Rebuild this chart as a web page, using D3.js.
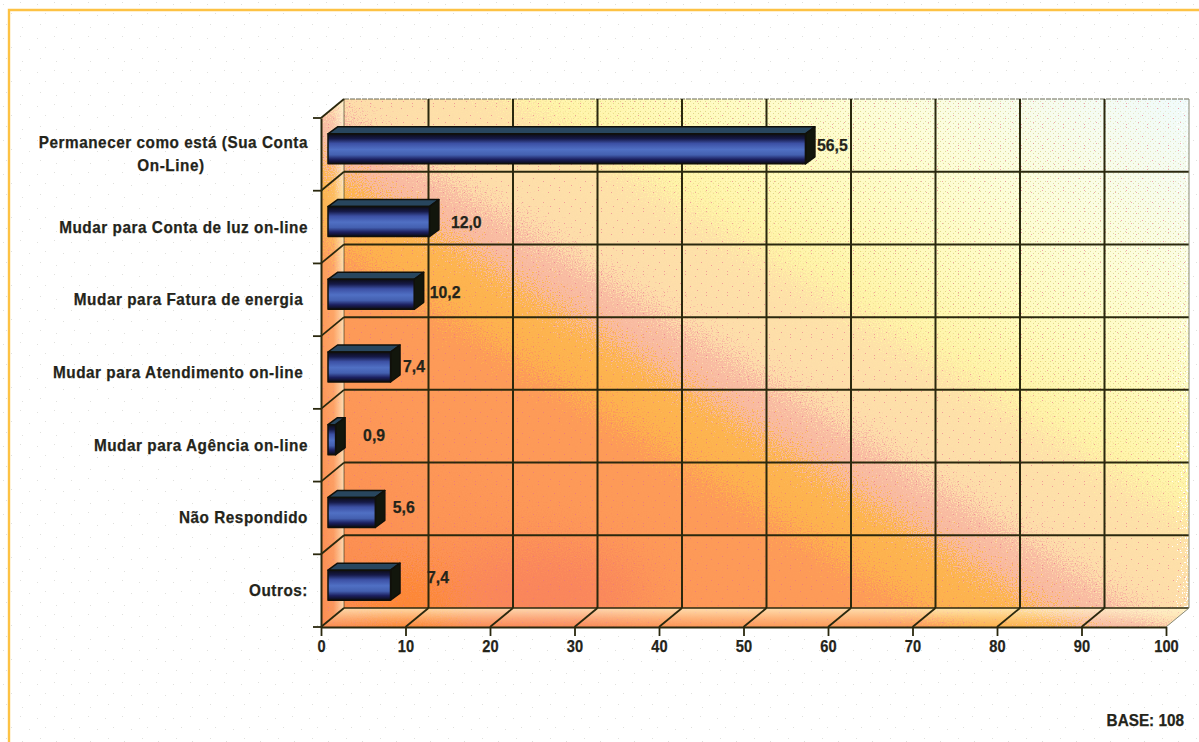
<!DOCTYPE html>
<html lang="pt">
<head>
<meta charset="utf-8">
<script src="https://cdn.jsdelivr.net/npm/d3@7/dist/d3.min.js"></script>
<style>
  html, body { margin: 0; padding: 0; background: #fff; }
  svg { display: block; }
  text { font-family: "Liberation Sans", Arial, sans-serif; font-weight: bold;
         fill: #24241a; stroke: #24241a; stroke-width: 0.25px; white-space: pre; }
</style>
</head>
<body>
<svg id="chart" width="1199" height="742"></svg>
<script>
// Survey answers, in percent
const categories = [
  "Permanecer como está (Sua Conta\nOn-Line) ",
  "Mudar para Conta de luz on-line",
  "Mudar para Fatura de energia ",
  "Mudar para Atendimento on-line ",
  "Mudar para Agência on-line",
  "Não Respondido",
  "Outros:"
];
const values = [56.5, 12.0, 10.2, 7.4, 0.9, 5.6, 7.4];
const xTicks = [0, 10, 20, 30, 40, 50, 60, 70, 80, 90, 100];
const baseLabel = "BASE: 108";

// Layout of the 3D box
const W = 1199, H = 742;
const depthX = 23, depthY = 19;       // shift from the front plane to the back wall
const barInset = 7;                   // bars start this far in front of the axis
const barThick = 30, barDX = 9.5, barDY = 7, barLift = 5.5;

// Hand placement of the value labels: gap after the bar, rise above the band centre
const labelGap = [2, 12, 6, 3, 18, 8, 27];
const labelRise = [9.5, 5.5, 8, 6.5, 10.5, 11, 13.5];

const x = d3.scaleLinear().domain([0, 100]).range([321, 1166]);
const y = d3.scaleBand().domain(categories).range([118, 627]);
const [plotTop, plotBottom] = y.range();
const [plotLeft, plotRight] = x.range();

// Condenses a text horizontally by squeezing its glyphs
function squeeze(node, factor) {
  node.setAttribute("lengthAdjust", "spacingAndGlyphs");
  node.setAttribute("textLength", node.getComputedTextLength() * factor);
}

const svg = d3.select("#chart");
const defs = svg.append("defs");

// Wash of the back wall, keyed on the projection 0.62x - y
const washStops = [
  [-395, "#fb8c50"], [-170, "#fd9858"], [-45, "#fd9c58"], [-32, "#fdb04e"], [30, "#fdb650"],
  [44, "#f8b89e"], [88, "#f9bea4"], [104, "#fddcaa"], [205, "#fee2a8"], [232, "#fff3a6"],
  [310, "#fffabc"], [430, "#fdfdd8"], [540, "#f7fcee"], [638, "#f0fbfc"]
];
const pMin = -395, pMax = 638;
const span = (pMax - pMin) / (0.62 * 0.62 + 1);
const wash = defs.append("linearGradient").attr("id", "wash")
  .attr("gradientUnits", "userSpaceOnUse")
  .attr("x1", 344).attr("y1", 608)
  .attr("x2", 344 + 0.62 * span).attr("y2", 608 - span);
wash.selectAll("stop").data(washStops).join("stop")
  .attr("offset", d => (d[0] - pMin) / (pMax - pMin))
  .attr("stop-color", d => d[1]);

// The paler half of the wall carries a fine olive stipple
const stippleFade = defs.append("linearGradient").attr("id", "stippleFade")
  .attr("gradientUnits", "userSpaceOnUse")
  .attr("x1", 344).attr("y1", 608)
  .attr("x2", 344 + 0.62 * span).attr("y2", 608 - span);
[[0.58, "#000"], [0.66, "#fff"], [0.86, "#fff"], [1, "#555"]].forEach(s =>
  stippleFade.append("stop").attr("offset", s[0]).attr("stop-color", s[1]));
defs.append("mask").attr("id", "stippleMask")
  .attr("maskUnits", "userSpaceOnUse").attr("x", 0).attr("y", 0).attr("width", W).attr("height", H)
  .append("rect").attr("width", W).attr("height", H).attr("fill", "url(#stippleFade)");

function dotPattern(id, size, color, opacity, dots) {
  const p = defs.append("pattern").attr("id", id).attr("patternUnits", "userSpaceOnUse")
    .attr("width", size).attr("height", size);
  p.selectAll("rect").data(dots).join("rect")
    .attr("x", d => d[0]).attr("y", d => d[1]).attr("width", 1).attr("height", 1)
    .attr("fill", color).attr("opacity", opacity);
}
dotPattern("paperDots", 34, "#d8d8d4", 0.8, [[3, 4], [20, 2], [11, 13], [29, 15], [6, 24], [22, 27]]);
dotPattern("oliveDots", 5, "#b8a840", 0.42, [[0, 1], [3, 3]]);
dotPattern("pinkDots", 21, "#e8708a", 0.6, [[2, 3], [13, 1], [8, 10], [18, 13], [4, 17], [13, 19]]);

// Grain that makes the colour bands dissolve into each other
const grain = defs.append("filter").attr("id", "grain")
  .attr("filterUnits", "userSpaceOnUse")
  .attr("color-interpolation-filters", "sRGB")
  .attr("x", 250).attr("y", 20).attr("width", 949).attr("height", 700);
grain.append("feTurbulence").attr("type", "fractalNoise").attr("baseFrequency", 0.8)
  .attr("numOctaves", 1).attr("seed", 4).attr("result", "n");
grain.append("feDisplacementMap").attr("in", "SourceGraphic").attr("in2", "n")
  .attr("scale", 110).attr("xChannelSelector", "R").attr("yChannelSelector", "G");

const soft = defs.append("filter").attr("id", "soft")
  .attr("x", "-50%").attr("y", "-50%").attr("width", "200%").attr("height", "200%");
soft.append("feGaussianBlur").attr("stdDeviation", 22);

// Side wall and floor lighten toward the back edge
const sideSheen = defs.append("linearGradient").attr("id", "sideSheen");
[[0, 0], [0.55, 0.12], [1, 0.72]].forEach(s =>
  sideSheen.append("stop").attr("offset", s[0]).attr("stop-color", "#fff8d8").attr("stop-opacity", s[1]));
const floorSheen = defs.append("linearGradient").attr("id", "floorSheen")
  .attr("x1", 0).attr("y1", 1).attr("x2", 0).attr("y2", 0);
[[0, 0], [0.45, 0.28], [1, 0.72]].forEach(s =>
  floorSheen.append("stop").attr("offset", s[0]).attr("stop-color", "#fff8d0").attr("stop-opacity", s[1]));

// Front face of a bar: dark rims around a lit blue core
const barFace = defs.append("linearGradient").attr("id", "barFace")
  .attr("x1", 0).attr("y1", 0).attr("x2", 0).attr("y2", 1);
[[0, "#0c0c14"], [0.16, "#161a48"], [0.32, "#3c50a4"], [0.52, "#5070c4"], [0.7, "#4460b0"],
 [0.85, "#1c2060"], [1, "#0a0a10"]].forEach(s =>
  barFace.append("stop").attr("offset", s[0]).attr("stop-color", s[1]));

const poly = pts => pts.map(p => p.join(",")).join(" ");

// Paper with its faint dots, and the frame
svg.append("rect").attr("width", W).attr("height", H).attr("fill", "#fff");
svg.append("rect").attr("width", W).attr("height", H).attr("fill", "url(#paperDots)");
svg.append("path").attr("d", `M9,${H}V10H${W}`).attr("fill", "none")
  .attr("stroke", "#fdc244").attr("stroke-width", 2.4);

// Box surfaces
const backL = plotLeft + depthX, backR = plotRight + depthX;
const backT = plotTop - depthY, backB = plotBottom - depthY;
const boxOutline = [[plotLeft, plotTop], [backL, backT], [backR, backT], [backR, backB], [plotRight, plotBottom], [plotLeft, plotBottom]];
defs.append("clipPath").attr("id", "boxClip").append("polygon").attr("points", poly(boxOutline));

const surfaces = svg.append("g").attr("clip-path", "url(#boxClip)");
const washed = surfaces.append("g").attr("filter", "url(#grain)");
washed.append("rect").attr("x", 250).attr("y", 20).attr("width", 949).attr("height", 700)
  .attr("fill", "url(#wash)");
// Hotter patches low on the wall
washed.append("ellipse").attr("cx", x(27)).attr("cy", y(categories[6]) + 36)
  .attr("rx", 95).attr("ry", 42).attr("fill", "#f87c62").attr("opacity", 0.6).attr("filter", "url(#soft)");
washed.append("ellipse").attr("cx", x(10)).attr("cy", y(categories[6]) + 50)
  .attr("rx", 34).attr("ry", 22).attr("fill", "#ff7e10").attr("opacity", 0.85).attr("filter", "url(#soft)");

surfaces.append("rect").attr("x", 300).attr("y", 60).attr("width", 899).attr("height", 600)
  .attr("fill", "url(#oliveDots)").attr("mask", "url(#stippleMask)");
surfaces.append("rect").attr("x", 300).attr("y", 60).attr("width", 899).attr("height", 600)
  .attr("fill", "url(#pinkDots)");

surfaces.append("polygon")
  .attr("points", poly([[plotLeft, plotTop], [backL, backT], [backL, backB], [plotLeft, plotBottom]]))
  .attr("fill", "url(#sideSheen)");
surfaces.append("polygon")
  .attr("points", poly([[plotLeft, plotBottom], [backL, backB], [backR, backB], [plotRight, plotBottom]]))
  .attr("fill", "url(#floorSheen)");

// Grid on the back wall, the side wall and the floor
const gridColor = "#2a280e";
const grid = svg.append("g").attr("fill", "none").attr("stroke", gridColor);
const bandEdges = d3.range(categories.length + 1).map(i => plotTop + i * y.step());

grid.selectAll(".hline").data(bandEdges.slice(1, -1)).join("line").attr("class", "hline")
  .attr("x1", backL).attr("x2", backR)
  .attr("y1", d => d - depthY).attr("y2", d => d - depthY).attr("stroke-width", 2);
grid.append("line").attr("x1", backL).attr("x2", backR).attr("y1", backT).attr("y2", backT)
  .attr("stroke", "#6a6a58").attr("stroke-width", 1.2).attr("stroke-dasharray", "5 1");
grid.append("line").attr("x1", backL).attr("x2", backR).attr("y1", backB).attr("y2", backB)
  .attr("stroke-width", 1.5);
grid.selectAll(".vline").data(xTicks.slice(0, -1)).join("line").attr("class", "vline")
  .attr("x1", d => x(d) + depthX).attr("x2", d => x(d) + depthX)
  .attr("y1", backT).attr("y2", backB).attr("stroke-width", d => d === 0 ? 1 : 2)
  .attr("stroke-opacity", d => d === 0 ? 0.6 : 1);
grid.append("line").attr("x1", backR).attr("x2", backR).attr("y1", backT).attr("y2", backB)
  .attr("stroke", "#8a8a78").attr("stroke-width", 1);
grid.selectAll(".floorline").data(xTicks.slice(0, -1)).join("line").attr("class", "floorline")
  .attr("x1", d => x(d)).attr("y1", plotBottom)
  .attr("x2", d => x(d) + depthX).attr("y2", backB).attr("stroke-width", 1.8);
grid.append("line").attr("x1", plotRight).attr("y1", plotBottom).attr("x2", backR).attr("y2", backB)
  .attr("stroke", "#8a8a78").attr("stroke-width", 1);
grid.selectAll(".sideline").data(bandEdges.slice(0, -1)).join("line").attr("class", "sideline")
  .attr("x1", plotLeft).attr("y1", d => d)
  .attr("x2", backL).attr("y2", d => d - depthY).attr("stroke-width", 1.8);

// Axes
const xAxis = d3.axisBottom(x).tickValues(xTicks).tickSize(9).tickPadding(4).tickSizeOuter(0);
const gx = svg.append("g").attr("transform", `translate(0,${plotBottom})`).call(xAxis);
gx.selectAll("text").attr("font-size", 17).each(function () { squeeze(this, 0.86); });

const yAxis = d3.axisLeft(y).tickSize(0).tickPadding(13);
const gy = svg.append("g").attr("transform", `translate(${plotLeft},0)`).call(yAxis);
const labelSqueeze = 0.9;
gy.selectAll(".tick text")
  .attr("font-size", 17).style("letter-spacing", "0.6px")
  .each(function (d) {
    const lines = d.split("\n");
    if (lines.length === 1) { squeeze(this, labelSqueeze); return; }
    const t = d3.select(this).text(null).attr("dy", "0.32em");
    const first = t.append("tspan").attr("x", -13).attr("dy", "-0.4em").text(lines[0]);
    const len = first.node().getComputedTextLength() * labelSqueeze;
    squeeze(first.node(), labelSqueeze);
    const second = t.append("tspan").attr("x", -13 - len / 2).attr("dy", "1.36em")
      .attr("text-anchor", "middle").text(lines[1]);
    squeeze(second.node(), labelSqueeze);
  });

// Tick marks on the band edges of the category axis
svg.append("g").selectAll("line").data(bandEdges).join("line")
  .attr("x1", plotLeft - 8).attr("x2", plotLeft).attr("y1", d => d).attr("y2", d => d)
  .attr("stroke", gridColor).attr("stroke-width", 1.8);
svg.selectAll(".domain").attr("stroke", gridColor).attr("stroke-width", 2);
gx.selectAll(".tick line").attr("stroke", gridColor).attr("stroke-width", 1.8);

// Bars, each a box of three faces
const barTop = d => y(d.cat) + y.bandwidth() / 2 - barLift - barThick / 2;
const barStart = x(0) + barInset;
const barEndX = d => x(d.val) + barInset;
const rows = categories.map((cat, i) => ({ cat, val: values[i], i }));

const bars = svg.append("g").selectAll("g").data(rows).join("g")
  .attr("stroke", "#10100a").attr("stroke-width", 1.5).attr("stroke-linejoin", "round");
bars.append("polygon").attr("fill", "#28465e")
  .attr("points", d => poly([
    [barStart, barTop(d)], [barStart + barDX, barTop(d) - barDY],
    [barEndX(d) + barDX, barTop(d) - barDY], [barEndX(d), barTop(d)]
  ]));
bars.append("polygon").attr("fill", "#12160c")
  .attr("points", d => poly([
    [barEndX(d), barTop(d)], [barEndX(d) + barDX, barTop(d) - barDY],
    [barEndX(d) + barDX, barTop(d) - barDY + barThick], [barEndX(d), barTop(d) + barThick]
  ]));
bars.append("rect").attr("fill", "url(#barFace)")
  .attr("x", barStart).attr("y", barTop)
  .attr("width", d => barEndX(d) - barStart).attr("height", barThick);

// Value labels with a decimal comma
const ptBR = d3.formatLocale({ decimal: ",", thousands: ".", grouping: [3], currency: ["R$", ""] });
const fmt = ptBR.format(".1f");
svg.append("g").selectAll("text").data(rows).join("text")
  .attr("x", d => barEndX(d) + barDX + labelGap[d.i])
  .attr("y", d => y(d.cat) + y.bandwidth() / 2 - labelRise[d.i])
  .attr("dy", "0.35em").attr("font-size", 17)
  .text(d => fmt(d.val))
  .each(function () { squeeze(this, 0.93); });

svg.append("text").attr("x", 1184).attr("y", 726).attr("text-anchor", "end")
  .attr("font-size", 17).text(baseLabel)
  .each(function () { squeeze(this, 0.9); });
</script>
</body>
</html>
